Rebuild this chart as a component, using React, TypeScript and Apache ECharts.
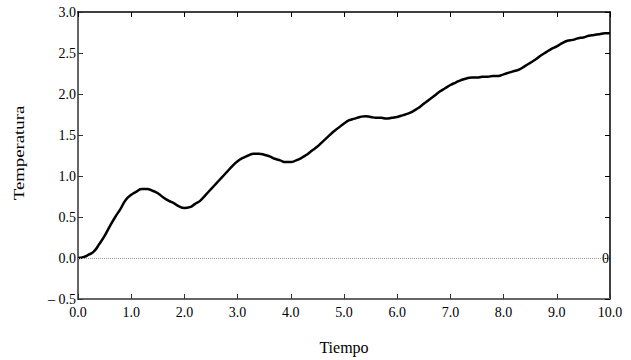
import React, { useEffect, useRef } from "react";
import * as echarts from "echarts";

const tiempo = [
  0, 0.1, 0.2, 0.3, 0.4, 0.5, 0.6, 0.7, 0.8, 0.9,
  1.0, 1.1, 1.2, 1.3, 1.4, 1.5, 1.6, 1.7, 1.8, 1.9,
  2.0, 2.1, 2.2, 2.3, 2.4, 2.5, 2.6, 2.7, 2.8, 2.9,
  3.0, 3.1, 3.2, 3.3, 3.4, 3.5, 3.6, 3.7, 3.8, 3.9,
  4.0, 4.1, 4.2, 4.3, 4.4, 4.5, 4.6, 4.7, 4.8, 4.9,
  5.0, 5.1, 5.2, 5.3, 5.4, 5.5, 5.6, 5.7, 5.8, 5.9,
  6.0, 6.1, 6.2, 6.3, 6.4, 6.5, 6.6, 6.7, 6.8, 6.9,
  7.0, 7.1, 7.2, 7.3, 7.4, 7.5, 7.6, 7.7, 7.8, 7.9,
  8.0, 8.1, 8.2, 8.3, 8.4, 8.5, 8.6, 8.7, 8.8, 8.9,
  9.0, 9.1, 9.2, 9.3, 9.4, 9.5, 9.6, 9.7, 9.8, 9.9, 10.0,
];

const temperatura = [
  0.0, 0.01, 0.04, 0.08, 0.17, 0.27, 0.39, 0.5, 0.6, 0.71,
  0.77, 0.81, 0.84, 0.84, 0.82, 0.79, 0.74, 0.7, 0.67, 0.63,
  0.61, 0.62, 0.66, 0.7, 0.77, 0.84, 0.91, 0.98, 1.05, 1.12,
  1.18, 1.22, 1.25, 1.27, 1.27, 1.26, 1.24, 1.21, 1.19, 1.17,
  1.17, 1.19, 1.22, 1.26, 1.31, 1.36, 1.42, 1.48, 1.54, 1.59,
  1.64, 1.68, 1.7, 1.72, 1.73, 1.72, 1.71, 1.71, 1.7, 1.71,
  1.72, 1.74, 1.76, 1.79, 1.83, 1.88, 1.93, 1.98, 2.03, 2.07,
  2.11, 2.14, 2.17, 2.19, 2.2, 2.2, 2.21, 2.21, 2.22, 2.22,
  2.24, 2.26, 2.28, 2.3, 2.34, 2.38, 2.42, 2.47, 2.51, 2.55,
  2.58, 2.62, 2.65, 2.66, 2.68, 2.69, 2.71, 2.72, 2.73, 2.74, 2.74,
];

const X_MIN = 0;
const X_MAX = 10;
const X_STEP = 1;
const Y_MIN = -0.5;
const Y_MAX = 3;
const Y_STEP = 0.5;

const X_NAME = "Tiempo";
const Y_NAME = "Temperatura";

const FONT = "'Liberation Serif', 'Times New Roman', serif";

export default function App() {
  const ref = useRef<HTMLDivElement>(null);

  useEffect(() => {
    if (!ref.current) return;
    const chart = echarts.init(ref.current, undefined, { renderer: "svg" });
    const fmtY = (v: number) => (v < 0 ? "\u2013 " + Math.abs(v).toFixed(1) : v.toFixed(1));
    chart.setOption({
      animation: false,
      backgroundColor: "#ffffff",
      textStyle: { fontFamily: FONT },
      grid: { left: 78, right: 21, top: 12, bottom: 57, containLabel: false },
      graphic: [
        {
          type: "text",
          x: 19,
          y: 153,
          rotation: Math.PI / 2,
          scaleX: 1.25,
          silent: true,
          style: {
            text: Y_NAME,
            fontFamily: FONT,
            fontSize: 15,
            fill: "#000",
            align: "center",
            verticalAlign: "middle",
          },
        },
      ],
      xAxis: [
        {
          type: "value",
          position: "bottom",
          min: X_MIN,
          max: X_MAX,
          interval: X_STEP,
          name: X_NAME,
          nameLocation: "middle",
          nameGap: 40,
          nameTextStyle: { fontFamily: FONT, fontSize: 16, color: "#000" },
          axisLine: { show: true, onZero: false, lineStyle: { color: "#666", width: 2 } },
          axisTick: { show: true, inside: true, length: 5, lineStyle: { color: "#333", width: 1 } },
          axisLabel: {
            fontFamily: FONT,
            fontSize: 14,
            color: "#000",
            margin: 6,
            formatter: (v: number) => v.toFixed(1),
          },
          splitLine: { show: false },
        },
        {
          type: "value",
          position: "top",
          min: X_MIN,
          max: X_MAX,
          interval: X_STEP,
          axisLine: { show: true, onZero: false, lineStyle: { color: "#000", width: 1.5 } },
          axisTick: { show: true, inside: true, length: 5, lineStyle: { color: "#000", width: 1 } },
          axisLabel: { show: false },
          splitLine: { show: false },
        },
      ],
      yAxis: [
        {
          type: "value",
          position: "left",
          min: Y_MIN,
          max: Y_MAX,
          interval: Y_STEP,
          axisLine: { show: true, onZero: false, lineStyle: { color: "#666", width: 2 } },
          axisTick: { show: true, inside: true, length: 5, lineStyle: { color: "#333", width: 1 } },
          axisLabel: {
            fontFamily: FONT,
            fontSize: 14,
            color: "#000",
            margin: 2,
            formatter: fmtY,
          },
          splitLine: { show: false },
        },
        {
          type: "value",
          position: "right",
          min: Y_MIN,
          max: Y_MAX,
          interval: Y_STEP,
          axisLine: { show: true, onZero: false, lineStyle: { color: "#000", width: 1.5 } },
          axisTick: { show: true, inside: true, length: 5, lineStyle: { color: "#000", width: 1 } },
          axisLabel: {
            show: true,
            inside: true,
            margin: 1,
            fontFamily: FONT,
            fontSize: 14,
            color: "#000",
            formatter: (v: number) => (v === 0 ? "0" : ""),
          },
          splitLine: { show: false },
        },
      ],
      series: [
        {
          type: "line",
          xAxisIndex: 0,
          yAxisIndex: 0,
          data: tiempo.map((t, i) => [t, temperatura[i]]),
          showSymbol: false,
          smooth: true,
          lineStyle: { color: "#000", width: 2.5 },
          z: 3,
          markLine: {
            silent: true,
            symbol: "none",
            label: { show: false },
            lineStyle: { color: "#999", type: "dotted", width: 1 },
            data: [{ yAxis: 0 }],
          },
        },
      ],
    });
    return () => chart.dispose();
  }, []);

  return (
    <div
      ref={ref}
      style={{ position: "fixed", left: 0, top: 0, width: 631, height: 360, background: "#fff" }}
    />
  );
}
